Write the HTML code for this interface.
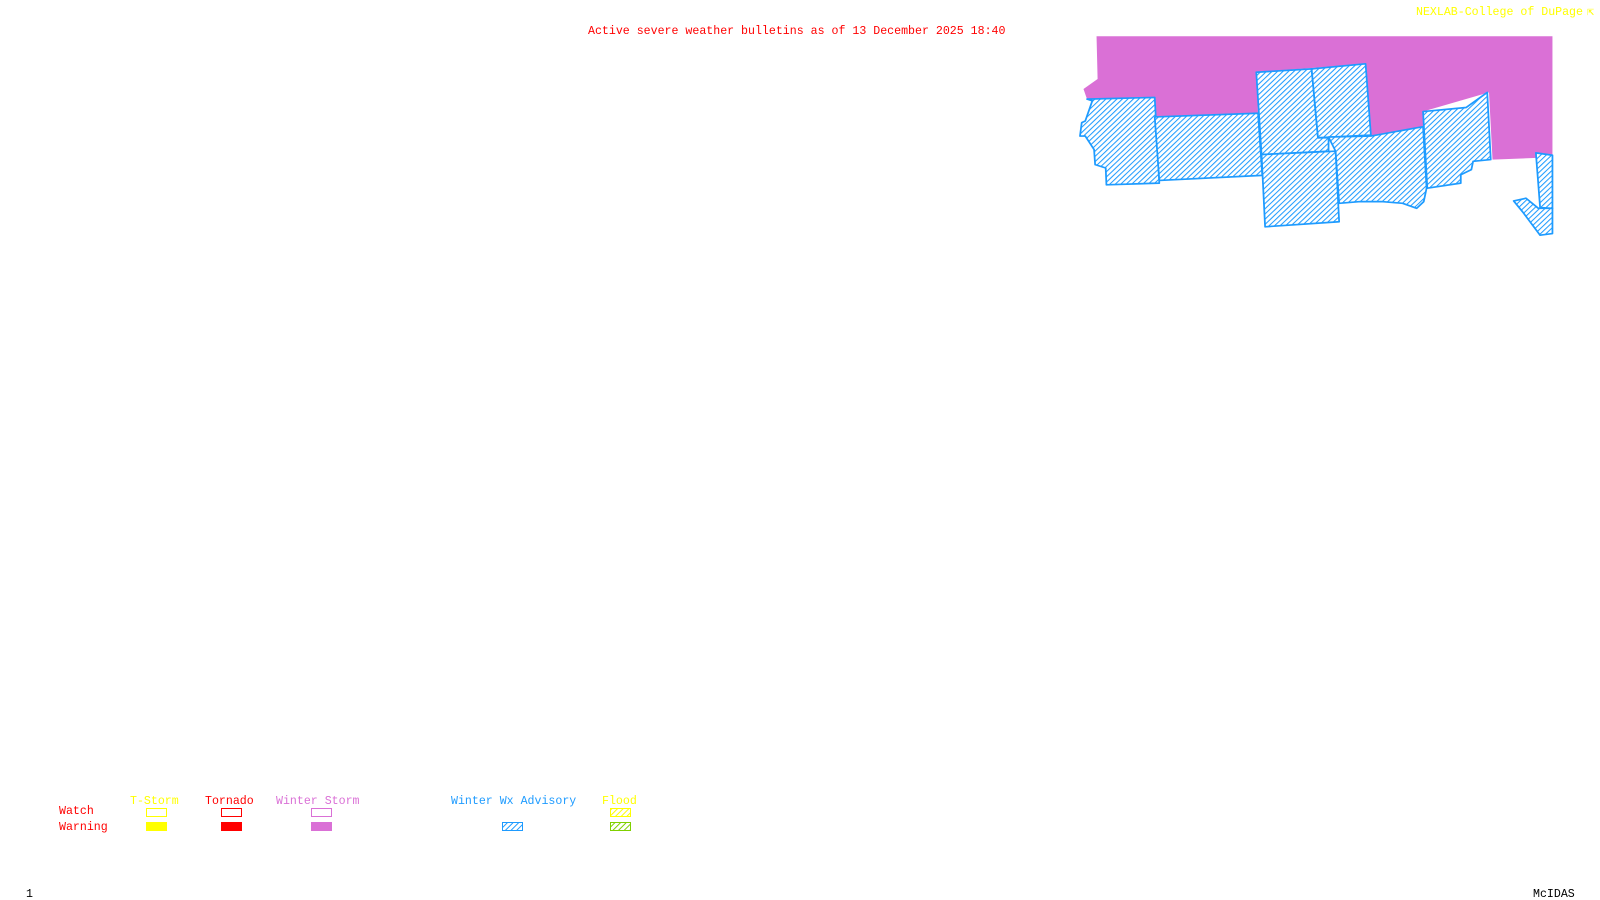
<!DOCTYPE html>
<html><head><meta charset="utf-8"><style>
html,body{margin:0;padding:0;background:#fff;width:1600px;height:900px;overflow:hidden}
svg{display:block}
text{font-family:"Liberation Mono",monospace;font-size:11.6px}
</style></head><body>
<svg width="1600" height="900" viewBox="0 0 1600 900" xmlns="http://www.w3.org/2000/svg">
<defs>
<pattern id="h" patternUnits="userSpaceOnUse" width="11" height="11" patternTransform="rotate(45)">
<rect width="11" height="11" fill="#fff"/><rect x="0" y="0" width="3" height="11" fill="#1e9bff"/>
</pattern>
<pattern id="hs" patternUnits="userSpaceOnUse" width="4" height="4" patternTransform="rotate(45)">
<rect width="4" height="4" fill="#fff"/><rect width="1" height="4" fill="#1e9bff"/>
</pattern>
<pattern id="hy" patternUnits="userSpaceOnUse" width="4" height="4" patternTransform="rotate(45)">
<rect width="4" height="4" fill="#fff"/><rect width="1" height="4" fill="#ffff00"/>
</pattern>
<pattern id="hg" patternUnits="userSpaceOnUse" width="4" height="4" patternTransform="rotate(45)">
<rect width="4" height="4" fill="#fff"/><rect width="1" height="4" fill="#7fd000"/>
</pattern>
</defs>

<text x="588" y="34" fill="#ff0000">Active severe weather bulletins as of 13 December 2025 18:40</text>
<text x="1416" y="15" fill="#ffff00">NEXLAB-College of DuPage</text>
<text x="1587" y="15" fill="#ffff00" font-size="11">⇱</text>

<g transform="translate(1050,0) scale(0.3526,0.336)">
<polygon fill="#da70d6" points="132,108 1425,108 1425,468 1255,475 1245,275 1058,332 1058,377 910,405 895,190 585,215 590,337 297,348 297,290 105,295 95,265 135,235"/>
<g fill="url(#h)" stroke="#1e9bff" stroke-width="5" stroke-linejoin="round">
<polygon points="105,295 297,290 310,545 160,550 158,500 128,490 125,445 100,405 85,405 90,365 100,360 120,300"/>
<polygon points="297,348 590,337 602,522 310,537"/>
<polygon points="585,215 742,205 760,410 790,410 790,450 600,460"/>
<polygon points="742,205 895,190 910,402 760,410"/>
<polygon points="600,460 810,450 820,660 610,675"/>
<polygon points="790,408 910,405 1058,377 1068,560 1060,600 1040,620 1000,605 940,600 880,600 820,605 810,450"/>
<polygon points="1058,332 1180,320 1240,275 1250,475 1200,480 1195,505 1165,520 1165,545 1070,560"/>
<polygon points="1378,455 1425,462 1425,620 1390,618"/>
<polygon points="1315,598 1350,590 1385,620 1425,620 1425,695 1390,700 1340,630"/>
</g>
</g>

<text x="130" y="804" fill="#ffff00">T-Storm</text>
<text x="205" y="804" fill="#ff0000">Tornado</text>
<text x="276" y="804" fill="#da70d6">Winter Storm</text>
<text x="451" y="804" fill="#1e9bff">Winter Wx Advisory</text>
<text x="602" y="804" fill="#ffff00">Flood</text>
<text x="59" y="814" fill="#ff0000">Watch</text>
<text x="59" y="830" fill="#ff0000">Warning</text>

<rect x="146.5" y="808.5" width="20" height="8" fill="none" stroke="#ffff00"/>
<rect x="146" y="822" width="21" height="9" fill="#ffff00"/>
<rect x="221.5" y="808.5" width="20" height="8" fill="none" stroke="#ff0000"/>
<rect x="221" y="822" width="21" height="9" fill="#ff0000"/>
<rect x="311.5" y="808.5" width="20" height="8" fill="none" stroke="#da70d6"/>
<rect x="311" y="822" width="21" height="9" fill="#da70d6"/>
<rect x="502.5" y="822.5" width="20" height="8" fill="url(#hs)" stroke="#1e9bff"/>
<rect x="610.5" y="808.5" width="20" height="8" fill="url(#hy)" stroke="#ffff00"/>
<rect x="610.5" y="822.5" width="20" height="8" fill="url(#hg)" stroke="#7fd000"/>

<text x="26" y="897" fill="#000" font-size="10">1</text>
<text x="1533" y="897" fill="#000">McIDAS</text>
</svg>
</body></html>
